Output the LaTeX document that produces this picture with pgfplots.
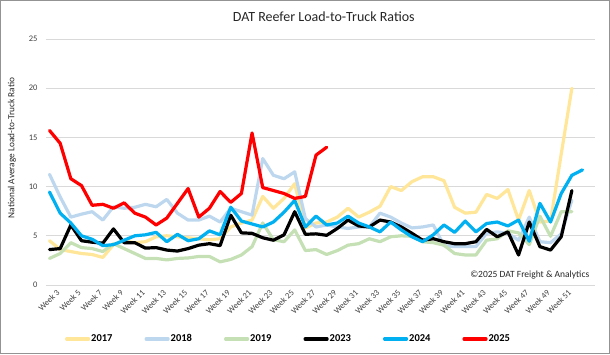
\documentclass[border=0pt]{standalone}
\usepackage{pgfplots}
\pgfplotsset{compat=1.18}
\usepackage{fontspec}
\setmainfont{Carlito}
\definecolor{c17}{HTML}{FFE699}
\definecolor{c18}{HTML}{BDD7EE}
\definecolor{c19}{HTML}{C5E0B4}
\definecolor{c24}{HTML}{00B0F0}
\definecolor{c25}{HTML}{FF0000}
\definecolor{gridc}{HTML}{D9D9D9}
\definecolor{tickc}{HTML}{404040}

\pgfplotstableread{
w v
3 4.5
4 3.6
5 3.4
6 3.2
7 3.1
8 2.8
9 4.1
10 4.5
11 4.3
12 4.4
13 4.9
14 5.0
15 4.9
16 4.8
17 4.7
18 4.6
19 4.7
20 5.9
21 6.3
22 6.6
23 9.0
24 7.8
25 8.8
26 10.3
27 5.8
28 6.3
29 6.4
30 6.9
31 7.8
32 6.9
33 7.4
34 8.0
35 10.0
36 9.6
37 10.5
38 11.0
39 11.0
40 10.6
41 7.9
42 7.3
43 7.4
44 9.2
45 8.8
46 9.7
47 6.6
48 9.6
49 6.4
50 6.5
51 13.3
52 20.0
}\dataA

\pgfplotstableread{
w v
3 11.25
4 8.95
5 6.9
6 7.2
7 7.45
8 6.6
9 7.95
10 7.8
11 7.9
12 8.2
13 7.95
14 8.7
15 7.3
16 6.6
17 6.6
18 7.0
19 6.4
20 7.8
21 7.45
22 7.1
23 12.85
24 11.15
25 10.8
26 11.5
27 6.75
28 5.9
29 6.1
30 5.9
31 5.75
32 5.9
33 5.9
34 7.3
35 6.9
36 6.3
37 5.8
38 5.9
39 6.1
40 4.0
41 3.9
42 3.9
43 3.9
44 5.25
45 5.4
46 5.25
47 4.55
48 6.9
49 4.4
50 4.3
51 5.2
52 8.6
}\dataB

\pgfplotstableread{
w v
3 2.7
4 3.2
5 4.3
6 3.8
7 3.7
8 3.4
9 4.2
10 3.7
11 3.2
12 2.7
13 2.7
14 2.55
15 2.7
16 2.75
17 2.9
18 2.9
19 2.35
20 2.6
21 3.05
22 3.9
23 6.3
24 4.6
25 4.4
26 5.6
27 3.5
28 3.6
29 3.1
30 3.5
31 4.05
32 4.2
33 4.7
34 4.4
35 4.9
36 5.0
37 4.95
38 4.4
39 4.3
40 4.05
41 3.2
42 3.05
43 3.05
44 4.55
45 4.7
46 5.5
47 5.3
48 4.1
49 7.0
50 4.95
51 7.45
52 7.45
}\dataC

\pgfplotstableread{
w v
3 3.6
4 3.7
5 6.1
6 4.5
7 4.35
8 4.25
9 5.7
10 4.3
11 4.3
12 3.75
13 3.8
14 3.55
15 3.45
16 3.7
17 4.05
18 4.2
19 4.0
20 7.1
21 5.3
22 5.25
23 4.8
24 4.55
25 5.1
26 7.45
27 5.15
28 5.2
29 5.05
30 5.75
31 6.6
32 6.0
33 5.9
34 6.6
35 6.4
36 5.9
37 5.25
38 4.55
39 4.7
40 4.4
41 4.2
42 4.2
43 4.4
44 5.65
45 4.9
46 5.4
47 3.05
48 6.4
49 3.9
50 3.55
51 4.9
52 9.6
}\dataD

\pgfplotstableread{
w v
3 9.45
4 7.3
5 6.3
6 5.0
7 4.65
8 4.0
9 4.1
10 4.55
11 5.0
12 5.1
13 5.35
14 4.4
15 5.15
16 4.5
17 4.7
18 5.5
19 5.1
20 7.9
21 6.5
22 6.2
23 5.9
24 6.4
25 7.4
26 8.6
27 5.9
28 7.0
29 6.1
30 6.3
31 7.0
32 6.3
33 5.9
34 5.4
35 6.4
36 5.6
37 4.9
38 4.4
39 5.1
40 6.1
41 5.35
42 6.5
43 5.4
44 6.25
45 6.4
46 6.0
47 6.6
48 4.45
49 8.3
50 6.4
51 9.3
52 11.15
53 11.7
}\dataE

\pgfplotstableread{
w v
3 15.7
4 14.4
5 10.8
6 10.1
7 8.1
8 8.2
9 7.8
10 8.35
11 7.3
12 6.9
13 6.1
14 6.8
15 8.3
16 9.8
17 6.9
18 7.8
19 9.5
20 8.4
21 9.3
22 15.45
23 9.9
24 9.6
25 9.3
26 8.8
27 9.0
28 13.2
29 14.0
}\dataF

\begin{document}
\begin{tikzpicture}[x=1pt,y=1pt]
\draw[draw=gray!85, line width=1pt] (0.5,0.5) rectangle (609.5,353.5);
\begin{axis}[
  at={(46pt,69pt)}, anchor=south west,
  scale only axis, width=549pt, height=246pt,
  xmin=2.67, xmax=54.17, ymin=0, ymax=25,
  ytick={0,5,...,25},
  xtick={3,5,...,51},
  xticklabels={Week 3,Week 5,Week 7,Week 9,Week 11,Week 13,Week 15,Week 17,Week 19,Week 21,Week 23,Week 25,Week 27,Week 29,Week 31,Week 33,Week 35,Week 37,Week 39,Week 41,Week 43,Week 45,Week 47,Week 49,Week 51},
  axis line style={draw=none},
  ymajorgrids, major grid style={gridc, line width=0.9pt},
  major tick length=0pt,
  /pgf/number format/assume math mode=true,
  tick label style={font=\fontsize{8.5}{9.5}\selectfont, text=tickc},
  yticklabel style={xshift=-5pt},
  xticklabel style={rotate=45, anchor=north east, inner sep=0pt, yshift=-7pt, xshift=2pt},
  title={DAT Reefer Load-to-Truck Ratios},
  title style={at={(axis description cs:0.506,1.065)}, anchor=center, font=\fontsize{14}{16}\selectfont, text=black!85},
  ylabel={National Average Load-to-Truck Ratio},
  ylabel style={at={(axis description cs:-0.062,0.557)}, rotate=0, anchor=center, font=\fontsize{9.3}{10}\selectfont, text=black!85},
  every axis plot/.append style={line width=3.2pt, line cap=round, line join=round},
  legend columns=6,
  legend style={at={(axis description cs:0.4408,-0.2195)}, anchor=center, draw=none, fill=none,
    font=\bfseries\fontsize{10.5}{12}\selectfont,
    nodes={inner sep=1pt},
    /tikz/every even column/.append style={column sep=31pt}},
  legend image code/.code={\draw[#1] (0pt,0pt) -- (22pt,0pt);},
]
\addplot[c17] table[x=w,y=v] {\dataA};
\addlegendentry{2017}
\addplot[c18] table[x=w,y=v] {\dataB};
\addlegendentry{2018}
\addplot[c19] table[x=w,y=v] {\dataC};
\addlegendentry{2019}
\addplot[black] table[x=w,y=v] {\dataD};
\addlegendentry{2023}
\addplot[c24] table[x=w,y=v] {\dataE};
\addlegendentry{2024}
\addplot[c25] table[x=w,y=v] {\dataF};
\addlegendentry{2025}
\node[anchor=east, font=\fontsize{9.5}{11}\selectfont, text=black!85] at (axis description cs:0.996,0.041) {©2025 DAT Freight \& Analytics};
\end{axis}
\end{tikzpicture}
\end{document}
